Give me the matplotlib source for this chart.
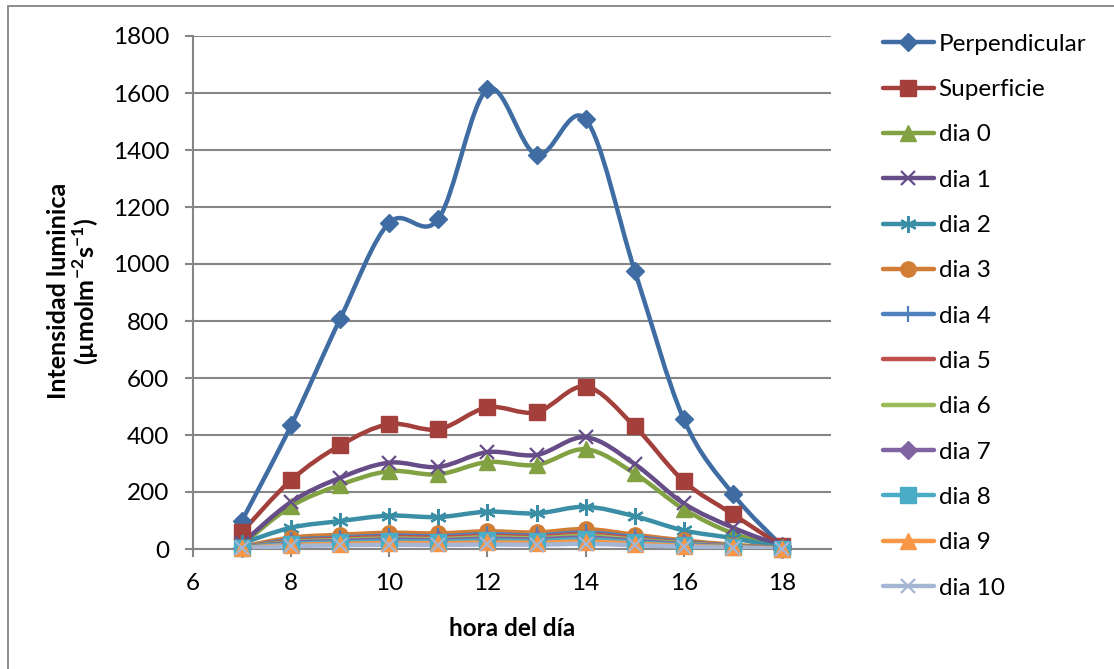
import matplotlib
matplotlib.use('Agg')
import matplotlib.pyplot as plt
import numpy as np
from matplotlib.path import Path
from matplotlib.patches import PathPatch, Rectangle
from matplotlib.lines import Line2D

plt.rcParams['font.family'] = ['Lato', 'DejaVu Sans']
plt.rcParams['mathtext.fontset'] = 'custom'
plt.rcParams['mathtext.rm'] = 'Lato'
plt.rcParams['mathtext.bf'] = 'Lato:bold'

hours = [7, 8, 9, 10, 11, 12, 13, 14, 15, 16, 17, 18]

perpendicular = [100, 434, 808, 1145, 1158, 1613, 1383, 1508, 977, 455, 193, 10]
superficie = [60, 242, 364, 438, 420, 497, 480, 570, 430, 238, 122, 10]
dia0 = [15, 150, 225, 273, 262, 305, 295, 350, 265, 140, 55, 8]
dia1 = [20, 165, 250, 303, 288, 340, 330, 392, 298, 160, 75, 10]
dia2 = [20, 75, 98, 117, 112, 131, 125, 148, 115, 65, 38, 5]
dia3 = [8, 40, 50, 57, 55, 62, 58, 70, 50, 30, 15, 3]
dia4 = [6, 32, 40, 47, 45, 52, 48, 58, 42, 25, 12, 2]
dia5 = [5, 28, 36, 42, 40, 46, 43, 52, 37, 22, 11, 2]
dia6 = [5, 25, 32, 37, 35, 41, 38, 46, 33, 20, 10, 2]
dia7 = [4, 22, 28, 33, 31, 36, 34, 40, 29, 17, 9, 1]
dia8 = [4, 18, 23, 27, 26, 30, 28, 34, 24, 14, 7, 1]
dia9 = [3, 14, 18, 21, 20, 23, 22, 26, 19, 11, 6, 1]
dia10 = [2, 10, 13, 15, 14, 16, 15, 18, 13, 8, 4, 1]

labels = ['Perpendicular', 'Superficie', 'dia 0', 'dia 1', 'dia 2', 'dia 3',
          'dia 4', 'dia 5', 'dia 6', 'dia 7', 'dia 8', 'dia 9', 'dia 10']
series = [perpendicular, superficie, dia0, dia1, dia2, dia3, dia4, dia5,
          dia6, dia7, dia8, dia9, dia10]

# (color, marker, markersize)
styles = [
    ('#3F6DA3', 'D', 9),
    ('#A3403C', 's', 11),
    ('#81A142', '^', 11),
    ('#664D87', 'x', 10),
    ('#3A8EA5', (6, 2, 0), 12),
    ('#D27D35', 'o', 11),
    ('#4F81BD', '+', 11),
    ('#C0504D', '_', 8),
    ('#9BBB59', 'None', 8),
    ('#8064A2', 'D', 9),
    ('#4BACC6', 's', 11),
    ('#F79646', '^', 11),
    ('#A5B6D4', 'x', 10),
]


def smooth_path(x, y):
    # cubic bezier through the points, tangents from the neighbours
    pts = np.column_stack([x, y]).astype(float)
    n = len(pts)
    verts = [pts[0]]
    codes = [Path.MOVETO]
    for i in range(n - 1):
        p0 = pts[i - 1] if i > 0 else pts[i]
        p1 = pts[i]
        p2 = pts[i + 1]
        p3 = pts[i + 2] if i + 2 < n else pts[i + 1]
        c1 = p1 + (p2 - p0) / 6.0
        c2 = p2 - (p3 - p1) / 6.0
        verts += [c1, c2, p2]
        codes += [Path.CURVE4] * 3
    return Path(verts, codes)


fig = plt.figure(figsize=(11.14, 6.69), dpi=100)
ax = fig.add_axes([193 / 1114, 1 - 549 / 669, (831 - 193) / 1114, (549 - 36) / 669])

# outer chart border (runs off the right and bottom edges)
fig.patches.append(Rectangle((8 / 1114, -0.1), 1.2, 1.1 - 6 / 669,
                             transform=fig.transFigure, fill=False,
                             edgecolor='#868686', lw=1.3))

handles = []
for vals, (col, mk, ms) in zip(series, styles):
    patch = PathPatch(smooth_path(hours, vals), fill=False, edgecolor=col,
                      lw=3.2, capstyle='round', joinstyle='round', zorder=3)
    ax.add_patch(patch)
    mew = 1.6 if mk in ('x', '+', '_') or isinstance(mk, tuple) else 1
    ax.plot(hours, vals, ls='none', marker=mk, ms=ms, color=col, mec=col,
            mew=mew, zorder=4, clip_on=False)
    handles.append(Line2D([], [], color=col, lw=3.2, marker=mk, ms=ms,
                          mec=col, mew=mew, solid_capstyle='round'))

ax.set_xlim(6, 19)
ax.set_ylim(0, 1800)
ax.set_xticks([6, 8, 10, 12, 14, 16, 18])
ax.set_yticks(range(0, 1801, 200))
ax.yaxis.grid(True, color='#868686', lw=1.5)
ax.set_axisbelow(True)
for s in ('top', 'right'):
    ax.spines[s].set_visible(False)
for s in ('left', 'bottom'):
    ax.spines[s].set_color('#868686')
    ax.spines[s].set_linewidth(1.5)
ax.tick_params(axis='both', colors='#868686', labelcolor='black',
               labelsize=17.5, length=6, width=1.5, pad=11)

fig.text(512 / 1114, 1 - 628 / 669, 'hora del día', ha='center', va='center',
         fontsize=17.5, fontweight='bold')
fig.text(74 / 1114, 1 - 291 / 669,
         'Intensidad luminica\n(µmolm$^{\\mathbf{-2}}$s$^{\\mathbf{-1}}$)',
         rotation=90, ha='center', va='center', fontsize=18,
         fontweight='bold', linespacing=1.0)

fig.legend(handles, labels, loc='upper left',
           bbox_to_anchor=(873 / 1114, 1 - 24 / 669), frameon=False,
           fontsize=17.5, handlelength=2.1, handletextpad=0.2,
           labelspacing=1.0, borderaxespad=0)

fig.savefig('out.png', dpi=100)
